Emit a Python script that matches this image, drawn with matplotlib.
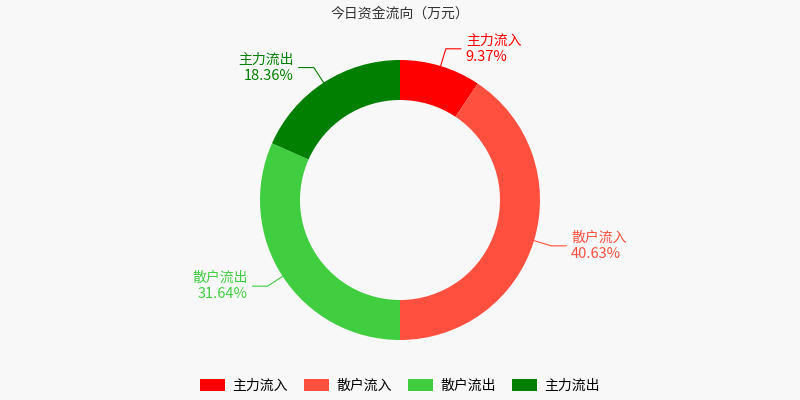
import numpy as np
import matplotlib.pyplot as plt
from matplotlib.patches import Patch

plt.rcParams['font.family'] = ['Noto Sans CJK SC', 'DejaVu Sans']

labels = ['主力流入', '散户流入', '散户流出', '主力流出']
values = [9.37, 40.63, 31.64, 18.36]
colors = ['#ff0000', '#ff503f', '#40cd40', '#007f00']

fig = plt.figure(figsize=(8, 4), dpi=100, facecolor='#f8f8f8')
ax = fig.add_axes([0, 0, 1, 1])
ax.set_facecolor('#f8f8f8')
cx, cy, R = 400, 200, 140
ax.pie(values, colors=colors, startangle=90, counterclock=False,
       center=(cx, cy), radius=R, wedgeprops=dict(width=40, edgecolor='none'))
ax.set_xlim(0, 800)
ax.set_ylim(0, 400)
ax.set_aspect('equal')
ax.axis('off')

cum = np.cumsum([0] + values)
for i, (lab, v, c) in enumerate(zip(labels, values, colors)):
    mid = (cum[i] + v / 2) / sum(values)
    a = np.deg2rad(90 - 360 * mid)
    p = (cx + R * np.cos(a), cy + R * np.sin(a))
    e = (cx + (R + 18) * np.cos(a), cy + (R + 18) * np.sin(a))
    s = 1 if np.cos(a) >= 0 else -1
    h = (e[0] + s * 15, e[1])
    ax.plot([p[0], e[0], h[0]], [p[1], e[1], h[1]], color=c, lw=0.8)
    ha = 'left' if s > 0 else 'right'
    tx = h[0] + s * 5
    ax.text(tx, h[1] + 8, lab, color=c, fontsize=10, ha=ha, va='center')
    ax.text(tx, h[1] - 8, f'{v:.2f}%', color=c, fontsize=10.5, ha=ha, va='center')

fig.text(0.5, 1 - 14 / 400, '今日资金流向（万元）', ha='center', va='center',
         fontsize=10, color='#333333')
handles = [Patch(facecolor=c, label=l) for c, l in zip(colors, labels)]
fig.legend(handles=handles, loc='center', bbox_to_anchor=(0.5, 1 - 386 / 400),
           ncol=4, frameon=False, fontsize=10, handlelength=1.8,
           handleheight=1.0, columnspacing=1.2, handletextpad=0.5)
fig.savefig('out.png', dpi=100, facecolor='#f8f8f8')
